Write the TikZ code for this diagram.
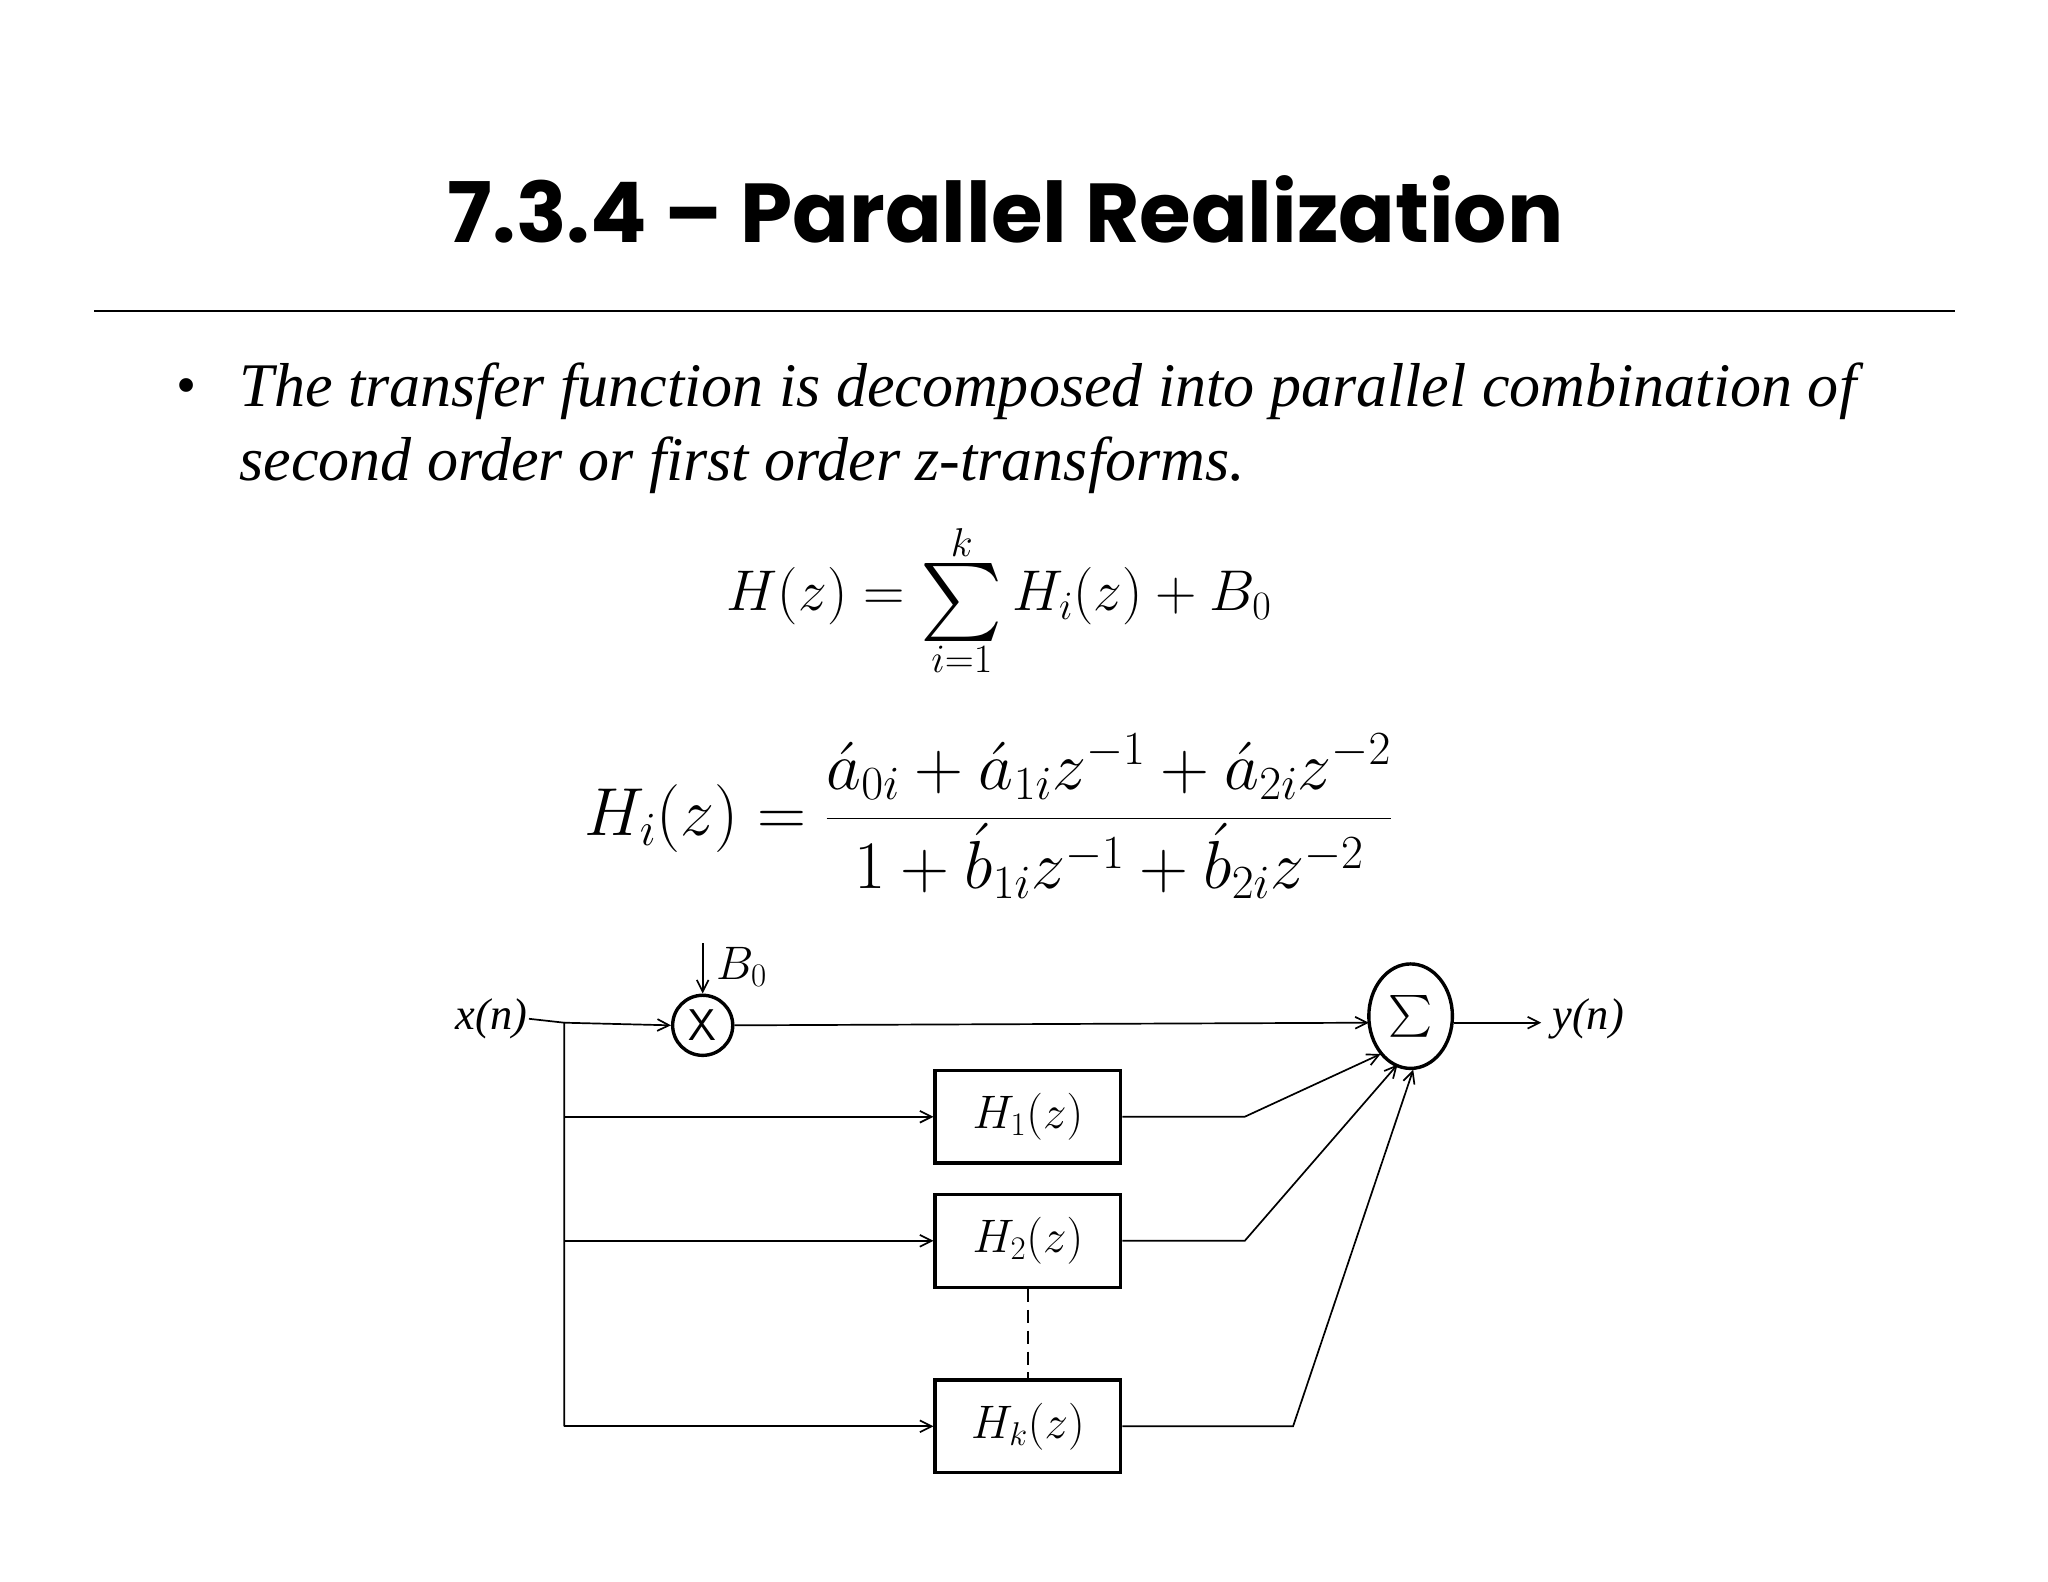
\documentclass[tikz,border=0pt]{standalone}
\usepackage{fix-cm}
\usepackage{amsmath}
\usepackage{graphicx}
\usepackage{fontspec}
\setmainfont{Liberation Serif}
\newfontfamily\titlefont{Poppins}
\usetikzlibrary{arrows.meta,shapes.geometric}
\begin{document}
\begin{tikzpicture}[x=1pt,y=-1pt,
  ln/.style={line width=1.3pt},
  arr/.style={ln,-{Straight Barb[length=9pt,width=9pt]}},
  hbox/.style={draw,line width=2.6pt,minimum width=142pt,minimum height=71pt,font=\fontsize{36}{40}\selectfont},
  lab/.style={font=\fontsize{34}{40}\selectfont\itshape}]
\useasboundingbox (0,0) rectangle (1568,1211);
\fill[white] (0,0) rectangle (1568,1211);
\node (title) at (770,160) {\titlefont\fontsize{64}{80}\selectfont\bfseries 7.3.4 – Parallel Realization};
\draw[line width=1.5pt] (72,238) -- (1497,238);
\node (bul) at (143,300) {\fontsize{44}{48}\selectfont •};
\node[anchor=west,align=left,font=\fontsize{47.5}{57}\selectfont\itshape] (txt) at (180,328) {The transfer function is decomposed into parallel combination of\\second order or first order z-transforms.};
\node (eq1) at (765,460) {\fontsize{44}{54}\selectfont$\displaystyle H(z)=\mathop{\raisebox{-0.35\height}{\scalebox{2.4}{$\sum$}}}\limits_{i=1}^{k}H_i(z)+B_0$};
\node (eq2) at (757,625) {\fontsize{52}{60}\selectfont$\displaystyle H_i(z)=\frac{\acute{a}_{0i}+\acute{a}_{1i}z^{-1}+\acute{a}_{2i}z^{-2}}{1+\acute{b}_{1i}z^{-1}+\acute{b}_{2i}z^{-2}}$};
% diagram
\node[lab,anchor=east,inner sep=1pt] (x) at (405,780) {x(n)};
\node[draw,circle,line width=2.6pt,minimum size=46pt,inner sep=0pt,font=\fontsize{34}{40}\sffamily\selectfont] (m) at (538,785) {X};
\node[draw,ellipse,line width=2.6pt,minimum width=64pt,minimum height=80pt,inner sep=0pt] (s) at (1080,778) {\scalebox{3.2}{$\sum$}};
\node[lab,anchor=west] (y) at (1185,780) {y(n)};
\coordinate (b0t) at (538,722);
\node[anchor=west,inner sep=0pt,font=\fontsize{36}{40}\selectfont] (b0) at (548,740) {$B_0$};
\node[hbox] (h1) at (787,855) {$H_1(z)$};
\node[hbox] (h2) at (787,950) {$H_2(z)$};
\node[hbox] (hk) at (787,1092) {$H_k(z)$};
\coordinate (j0) at (432,783);
\coordinate (j1) at (432,855);
\coordinate (j2) at (432,950);
\coordinate (jk) at (432,1092);
\coordinate (k1) at (953,855);
\coordinate (k2) at (953,950);
\coordinate (kk) at (990,1092);
\coordinate (se) at (1048,783);
\draw[ln] (x.east) -- (j0) -- (jk);
\draw[arr] (j0) -- (m.west);
\draw[arr] (b0t) -- (m.north);
\draw[arr] (m.east) -- (se);
\draw[arr] (s.east |- se) -- (1180,783);
\draw[arr] (j1) -- (h1.west);
\draw[arr] (j2) -- (h2.west);
\draw[arr] (jk) -- (hk.west);
\draw[ln,dashed,dash pattern=on 10pt off 6pt] (h2.south) -- (hk.north);
\draw[arr] (h1.east) -- (k1) -- (1057,807);
\draw[arr] (h2.east) -- (k2) -- (1070,815);
\draw[arr] (hk.east) -- (kk) -- (1082,819);
\end{tikzpicture}
\end{document}
